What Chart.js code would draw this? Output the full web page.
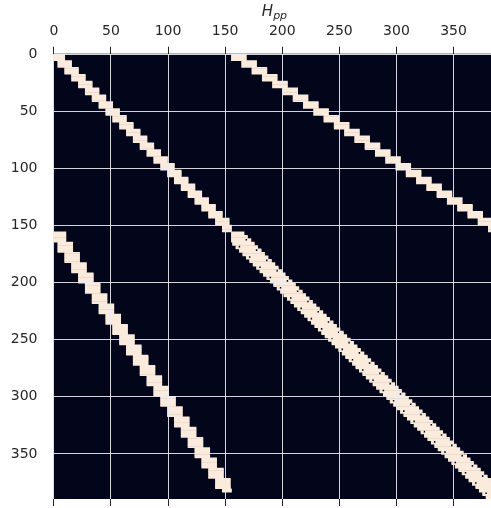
<!DOCTYPE html>
<html>
<head>
<meta charset="utf-8">
<script src="https://cdn.jsdelivr.net/npm/chart.js@4.4.0/dist/chart.umd.min.js"></script>
<style>
  html, body { margin: 0; padding: 0; background: #fff; }
</style>
</head>
<body>
<canvas id="hpp" width="491" height="508"></canvas>
<script>
// sparsity pattern of H_pp (390 x 390)
const matrixSize = 390;
const tickValues = [0, 50, 100, 150, 200, 250, 300, 350];
const xViewMax = 382.8; // the picture is cut on the right

// [firstRow, lastRow, firstCol, lastCol] of each non-zero step
const diagABlocks = [
  [0, 5, 0, 9], [6, 11, 4, 15], [12, 17, 10, 21], [18, 23, 16, 27], [24, 29, 22, 33],
  [30, 35, 28, 39], [36, 41, 34, 45], [42, 47, 40, 51], [48, 53, 46, 57], [54, 59, 52, 63],
  [60, 65, 58, 69], [66, 71, 64, 75], [72, 77, 70, 81], [78, 83, 76, 87], [84, 89, 82, 93],
  [90, 95, 88, 99], [96, 101, 94, 105], [102, 107, 100, 111], [108, 113, 106, 117],
  [114, 119, 112, 123], [120, 125, 118, 129], [126, 131, 124, 135], [132, 137, 130, 141],
  [138, 143, 136, 147], [144, 149, 142, 153], [150, 155, 148, 155]
];
const upperBlocks = [
  [0, 5, 156, 168], [6, 11, 165, 177], [12, 17, 174, 186], [18, 23, 183, 195], [24, 29, 192, 204],
  [30, 35, 201, 213], [36, 41, 210, 222], [42, 47, 219, 231], [48, 53, 228, 240], [54, 59, 237, 249],
  [60, 65, 246, 258], [66, 71, 255, 267], [72, 77, 264, 276], [78, 83, 273, 285], [84, 89, 282, 294],
  [90, 95, 291, 303], [96, 101, 300, 312], [102, 107, 309, 321], [108, 113, 318, 330],
  [114, 119, 327, 339], [120, 125, 336, 348], [126, 131, 345, 357], [132, 137, 354, 366],
  [138, 143, 363, 375], [144, 149, 372, 384], [150, 155, 381, 389]
];
const lowerBlocks = [
  [156, 164, 0, 10], [165, 173, 4, 16], [174, 182, 10, 22], [183, 191, 16, 28], [192, 200, 22, 34],
  [201, 209, 28, 40], [210, 218, 34, 46], [219, 227, 40, 52], [228, 236, 46, 58], [237, 245, 52, 64],
  [246, 254, 58, 70], [255, 263, 64, 76], [264, 272, 70, 82], [273, 281, 76, 88], [282, 290, 82, 94],
  [291, 299, 88, 100], [300, 308, 94, 106], [309, 317, 100, 112], [318, 326, 106, 118],
  [327, 335, 112, 124], [336, 344, 118, 130], [345, 353, 124, 136], [354, 362, 130, 142],
  [363, 371, 136, 148], [372, 380, 142, 154], [381, 383, 148, 155]
];
const diagBBlocks = [
  [156, 158, 156, 166], [159, 161, 156, 169], [162, 164, 156, 172], [165, 167, 157, 175],
  [168, 170, 160, 178], [171, 173, 163, 181], [174, 176, 166, 184], [177, 179, 169, 187],
  [180, 182, 172, 190], [183, 185, 175, 193], [186, 188, 178, 196], [189, 191, 181, 199],
  [192, 194, 184, 202], [195, 197, 187, 205], [198, 200, 190, 208], [201, 203, 193, 211],
  [204, 206, 196, 214], [207, 209, 199, 217], [210, 212, 202, 220], [213, 215, 205, 223],
  [216, 218, 208, 226], [219, 221, 211, 229], [222, 224, 214, 232], [225, 227, 217, 235],
  [228, 230, 220, 238], [231, 233, 223, 241], [234, 236, 226, 244], [237, 239, 229, 247],
  [240, 242, 232, 250], [243, 245, 235, 253], [246, 248, 238, 256], [249, 251, 241, 259],
  [252, 254, 244, 262], [255, 257, 247, 265], [258, 260, 250, 268], [261, 263, 253, 271],
  [264, 266, 256, 274], [267, 269, 259, 277], [270, 272, 262, 280], [273, 275, 265, 283],
  [276, 278, 268, 286], [279, 281, 271, 289], [282, 284, 274, 292], [285, 287, 277, 295],
  [288, 290, 280, 298], [291, 293, 283, 301], [294, 296, 286, 304], [297, 299, 289, 307],
  [300, 302, 292, 310], [303, 305, 295, 313], [306, 308, 298, 316], [309, 311, 301, 319],
  [312, 314, 304, 322], [315, 317, 307, 325], [318, 320, 310, 328], [321, 323, 313, 331],
  [324, 326, 316, 334], [327, 329, 319, 337], [330, 332, 322, 340], [333, 335, 325, 343],
  [336, 338, 328, 346], [339, 341, 331, 349], [342, 344, 334, 352], [345, 347, 337, 355],
  [348, 350, 340, 358], [351, 353, 343, 361], [354, 356, 346, 364], [357, 359, 349, 367],
  [360, 362, 352, 370], [363, 365, 355, 373], [366, 368, 358, 376], [369, 371, 361, 379],
  [372, 374, 364, 382], [375, 377, 367, 385], [378, 380, 370, 388], [381, 383, 373, 389],
  [384, 386, 376, 389], [387, 389, 379, 389]
];
// zero 2x2 holes inside the second diagonal block (top-left cell, mirrored below)
const holeCells = [
  [162, 168], [171, 177], [180, 186], [189, 195], [198, 204], [207, 213], [216, 222],
  [225, 231], [234, 240], [243, 249], [252, 258], [261, 267], [270, 276], [279, 285],
  [288, 294], [297, 303], [306, 312], [315, 321], [324, 330], [333, 339], [342, 348],
  [351, 357], [360, 366], [369, 375], [378, 384]
];

const zeroColor = '#03051A';
const nonZeroColor = '#FAEBDD';
const gridColor = 'rgba(235,235,240,0.9)';
const textColor = '#262626';
const tickFont = {family: 'DejaVu Sans', size: 14};

// build the 0/1 pattern
const pattern = new Uint8Array(matrixSize * matrixSize);
function setCell(r, c, v) {
    if (r >= 0 && r < matrixSize && c >= 0 && c < matrixSize) {
        pattern[r * matrixSize + c] = v;
    }
}
[diagABlocks, upperBlocks, lowerBlocks, diagBBlocks].forEach((blocks) => {
    blocks.forEach(([r0, r1, c0, c1]) => {
        for (let r = r0; r <= r1; r++) {
            for (let c = c0; c <= c1; c++) setCell(r, c, 1);
        }
    });
});
holeCells.forEach(([r, c]) => {
    for (let i = 0; i < 2; i++) {
        for (let j = 0; j < 2; j++) {
            setCell(r + i, c + j, 0);
            setCell(c + j, r + i, 0);
        }
    }
});

// one floating bar per run of non-zeros in a row
const rowLabels = Array.from({length: matrixSize}, (_, i) => i);
const runs = [];
for (let r = 0; r < matrixSize; r++) {
    let c = 0;
    while (c < matrixSize) {
        if (!pattern[r * matrixSize + c]) { c++; continue; }
        const start = c;
        while (c < matrixSize && pattern[r * matrixSize + c]) c++;
        runs.push({y: r, x: [start - 0.5, c - 0.5]});
    }
}

const fixedTicks = (scale) => {
    scale.ticks = tickValues.map((v) => ({value: v}));
};

const plotBackground = {
    id: 'plotBackground',
    beforeDatasetsDraw(chart) {
        const {ctx, chartArea} = chart;
        ctx.save();
        ctx.fillStyle = zeroColor;
        ctx.fillRect(chartArea.left, chartArea.top, chartArea.width, chartArea.height);
        ctx.restore();
    }
};

const hppTitle = {
    id: 'hppTitle',
    afterDraw(chart) {
        const ctx = chart.ctx;
        const cx = chart.scales.x.getPixelForValue((matrixSize - 1) / 2);
        const big = 'italic 15px "DejaVu Sans"';
        const small = 'italic 11px "DejaVu Sans"';
        ctx.save();
        ctx.fillStyle = textColor;
        ctx.textBaseline = 'alphabetic';
        ctx.textAlign = 'left';
        ctx.font = big;
        const wH = ctx.measureText('H').width;
        ctx.font = small;
        const wP = ctx.measureText('pp').width;
        const x0 = cx - (wH + wP) / 2 - 1.5;
        ctx.font = big;
        ctx.fillText('H', x0, 16);
        ctx.font = small;
        ctx.fillText('pp', x0 + wH, 19);
        ctx.restore();
    }
};

new Chart(document.getElementById('hpp'), {
    type: 'bar',
    data: {
        labels: rowLabels,
        datasets: [{
            data: runs,
            xAxisID: 'x',
            yAxisID: 'y',
            backgroundColor: nonZeroColor,
            borderWidth: 0,
            grouped: false,
            barPercentage: 1,
            categoryPercentage: 1
        }]
    },
    options: {
        indexAxis: 'y',
        responsive: false,
        devicePixelRatio: 1,
        animation: false,
        layout: {padding: 0},
        plugins: {
            legend: {display: false},
            tooltip: {enabled: false}
        },
        scales: {
            x: {
                type: 'linear',
                position: 'top',
                min: -0.5,
                max: xViewMax,
                bounds: 'data',
                offset: false,
                afterBuildTicks: fixedTicks,
                afterFit: (s) => { s.height = 53.7; s.paddingLeft = 0; s.paddingRight = 0; },
                grid: {color: gridColor, lineWidth: 1, z: 1, offset: false, drawTicks: true, tickLength: 7,
                    tickColor: textColor, tickWidth: 1},
                border: {display: false},
                ticks: {color: textColor, font: tickFont, padding: 6.6, maxRotation: 0, autoSkip: false,
                    callback: (v) => String(v)}
            },
            xBottom: {
                type: 'linear',
                position: 'bottom',
                min: -0.5,
                max: xViewMax,
                bounds: 'data',
                offset: false,
                afterBuildTicks: fixedTicks,
                afterFit: (s) => { s.height = 9; s.paddingLeft = 0; s.paddingRight = 0; },
                grid: {drawOnChartArea: false, offset: false, drawTicks: true, tickLength: 7,
                    tickColor: textColor, tickWidth: 1, z: 1},
                border: {display: false},
                ticks: {display: false}
            },
            y: {
                type: 'category',
                display: false,
                offset: true
            },
            yTicks: {
                type: 'linear',
                position: 'left',
                reverse: true,
                min: -0.5,
                max: matrixSize - 0.5,
                bounds: 'data',
                offset: false,
                beginAtZero: false,
                afterBuildTicks: fixedTicks,
                afterFit: (s) => { s.width = 53.3; s.paddingTop = 0; s.paddingBottom = 0; },
                grid: {color: gridColor, lineWidth: 1, z: 1, offset: false, drawTicks: false},
                border: {display: false},
                ticks: {color: textColor, font: tickFont, padding: 15.8, autoSkip: false,
                    callback: (v) => String(v)}
            }
        }
    },
    plugins: [plotBackground, hppTitle]
});
</script>
</body>
</html>
